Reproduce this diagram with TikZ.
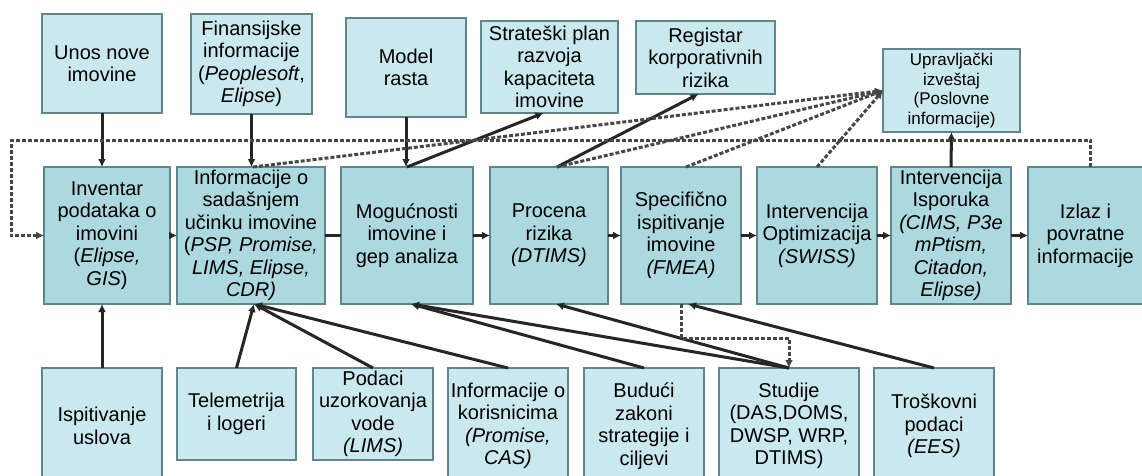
\documentclass[tikz,border=0pt]{standalone}
\usepackage{fontspec}
\setmainfont{Liberation Sans}
\usetikzlibrary{positioning, arrows.meta}
\definecolor{boxfill}{RGB}{201,233,239}
\definecolor{midfill}{RGB}{172,216,223}
\definecolor{boxline}{RGB}{96,134,140}
\definecolor{wire}{RGB}{38,38,38}
\tikzset{
  >={Latex[length=8pt,width=8pt]},
  box/.style={draw=boxline, line width=2.2pt, fill=boxfill, align=center,
    inner sep=1pt, outer sep=0pt, font=\fontsize{20}{22.5}\selectfont},
  midbox/.style={box, fill=midfill, minimum height=137pt},
  flow/.style={draw=wire, line width=3pt},
  fb/.style={draw=wire!85, line width=3pt, dash pattern=on 4pt off 2pt}
}

\begin{document}
\begin{tikzpicture}[x=1pt, y=-1pt]
    \useasboundingbox[fill=white] (0,0) rectangle (1142,475);

    % top row
    \node[box, minimum width=120pt, minimum height=99pt] (unos) at (102,63.5) {Unos nove\\imovine};
    \node[box, minimum width=121pt, minimum height=100pt] (fin) at (251.5,64) {Finansijske\\informacije\\(\textit{Peoplesoft},\\\textit{Elipse})};
    \node[box, minimum width=120pt, minimum height=99pt] (model) at (406,67.5) {Model\\rasta};
    \node[box, minimum width=137pt, minimum height=92pt] (strat) at (549.5,67) {Strateški plan\\razvoja\\kapaciteta\\imovine};
    \node[box, minimum width=139pt, minimum height=73pt] (reg) at (705.5,57.5) {Registar\\korporativnih\\rizika};
    \node[box, minimum width=137pt, minimum height=83pt, font=\fontsize{17}{19.5}\selectfont] (uprav) at (951.5,90.5) {Upravljački\\izveštaj\\(Poslovne\\informacije)};

    % middle row
    \node[midbox, minimum width=126pt] (inv) at (107,235.5) {Inventar\\podataka o\\imovini\\(\textit{Elipse,}\\\textit{GIS})};
    \node[midbox, minimum width=148pt, right=7pt of inv] (sad) {Informacije o\\sadašnjem\\učinku imovine\\(\textit{PSP, Promise,}\\\textit{LIMS, Elipse,}\\\textit{CDR)}};
    \node[midbox, minimum width=132pt, right=16pt of sad] (mog) {Mogućnosti\\imovine i\\gep analiza};
    \node[midbox, minimum width=118pt, right=17pt of mog] (proc) {Procena\\rizika\\\textit{(DTIMS)}};
    \node[midbox, minimum width=120pt, right=13pt of proc] (spec) {Specifično\\ispitivanje\\imovine\\\textit{(FMEA)}};
    \node[midbox, minimum width=120pt, right=16pt of spec] (opt) {Intervencija\\Optimizacija\\\textit{(SWISS)}};
    \node[midbox, minimum width=120pt, right=14pt of opt] (isporuka) {Intervencija\\Isporuka\\\textit{(CIMS, P3e}\\\textit{mPtism,}\\\textit{Citadon,}\\\textit{Elipse)}};
    \node[midbox, minimum width=115pt, right=17pt of isporuka] (izlaz) {Izlaz i\\povratne\\informacije};

    % bottom row
    \node[box, minimum width=120pt, minimum height=116pt] (ispit) at (102,426) {Ispitivanje\\uslova};
    \node[box, minimum width=119pt, minimum height=92pt] (telem) at (236.5,414) {Telemetrija\\i logeri};
    \node[box, minimum width=120pt, minimum height=92pt] (podaci) at (373,414) {Podaci\\uzorkovanja\\vode\\\textit{(LIMS)}};
    \node[box, minimum width=120pt, minimum height=116pt] (koris) at (508,426) {Informacije o\\korisnicima\\\textit{(Promise,}\\\textit{CAS)}};
    \node[box, minimum width=120pt, minimum height=116pt] (buduci) at (644,426) {Budući\\zakoni\\strategije i\\ciljevi};
    \node[box, minimum width=140pt, minimum height=116pt] (studije) at (789,426) {Studije\\(DAS,DOMS,\\DWSP, WRP,\\DTIMS)};
    \node[box, minimum width=120pt, minimum height=116pt] (tros) at (934,426) {Troškovni\\podaci\\\textit{(EES)}};

    % inputs from above
    \draw[flow, ->] (unos.south) -- (unos.south |- inv.north);
    \draw[flow, ->] (fin.south) -- (fin.south |- sad.north);
    \draw[flow, ->] (model.south) -- (model.south |- mog.north);
    \draw[flow, ->] (mog.north) -- ([xshift=-6pt]strat.south);
    \draw[flow, ->] ([xshift=8pt]proc.north) -- ([xshift=-7pt]reg.south);
    \draw[flow, ->] (isporuka.north) -- (uprav.south);

    % reports
    \foreach \src/\dx in {sad/2, proc/8, spec/5, opt/0}
      \draw[fb, ->] ([xshift=\dx pt]\src.north) -- (uprav.west);

    % feedback loop
    \coordinate (fbcorner) at (11,140);
    \draw[fb, ->] ([xshift=5pt]izlaz.north) |- (fbcorner) |- (inv.west);

    % main chain
    \draw[flow, ->] (inv) -- (sad);
    \draw[flow] (sad) -- (mog);
    \foreach \a/\b in {mog/proc, proc/spec, spec/opt, opt/isporuka, isporuka/izlaz}
      \draw[flow, ->] (\a) -- (\b);

    % inputs from below
    \draw[flow, ->] (ispit.north) -- (ispit.north |- inv.south);
    \foreach \src in {telem, podaci, koris}
      \draw[flow, ->] (\src.north) -- ([xshift=3pt]sad.south);
    \foreach \src in {buduci, studije}
      \draw[flow, ->] (\src.north) -- ([xshift=4pt]mog.south);
    \draw[flow, ->] (studije.north) -- ([xshift=7pt]proc.south);
    \draw[flow, ->] (tros.north) -- ([xshift=7pt]spec.south);
    \draw[fb, ->] (spec.south) -- ++(0,34) -| (studije.north);
\end{tikzpicture}
\end{document}
